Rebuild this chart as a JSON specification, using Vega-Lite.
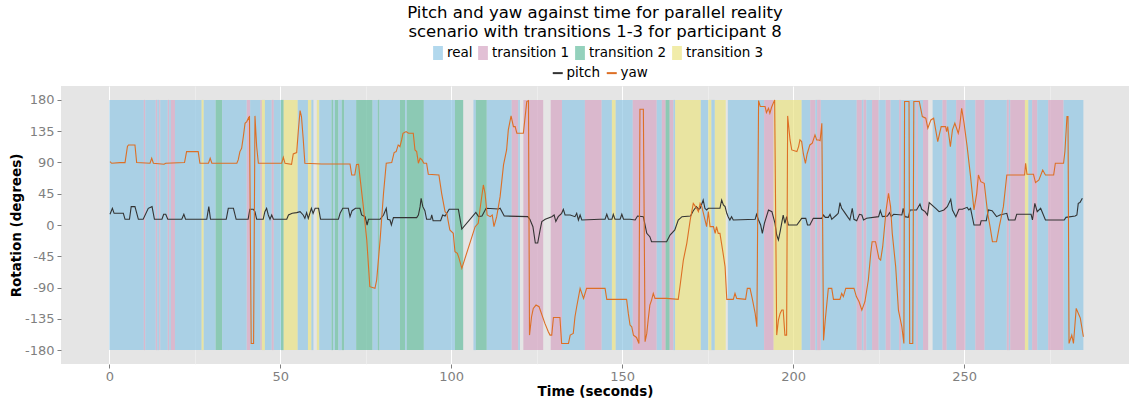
{
"$schema": "https://vega.github.io/schema/vega-lite/v6.json",
"width": 1068, "height": 278,
"autosize": {"type": "none"},
"padding": {"left": 61, "top": 86, "right": 0, "bottom": 36},
"background": "white",
"title": {"text": ["Pitch and yaw against time for parallel reality", "scenario with transitions 1-3 for participant 8"], "fontSize": 16.5, "fontWeight": "normal", "font": "DejaVu Sans", "color": "black", "anchor": "middle", "frame": "group", "lineHeight": 18.5, "offset": 6},
"config": {"view": {"fill": "#e5e5e5", "stroke": null}, "font": "DejaVu Sans",
 "axis": {"labelOverlap": false, "domain": false, "tickColor": "#7f7f7f", "tickSize": 4, "labelColor": "#7f7f7f", "labelFontSize": 13, "labelFont": "DejaVu Sans", "titleFontSize": 13.5, "titleFontWeight": "bold", "titleColor": "black", "titleFont": "DejaVu Sans", "labelFlush": false},
 "axisX": {"labelPadding": 2, "titlePadding": 1},
 "axisY": {"labelPadding": 3, "titlePadding": 1}},
"datasets": {
"bands": [
{"s":0,"e":10.1,"state":"real"},{"s":10.1,"e":10.5,"state":"transition 1"},{"s":10.5,"e":13.6,"state":"real"},{"s":13.6,"e":14.0,"state":"transition 1"},{"s":14.0,"e":14.6,"state":"real"},{"s":14.6,"e":14.9,"state":"transition 1"},{"s":14.9,"e":17.1,"state":"real"},{"s":17.1,"e":17.5,"state":"transition 1"},{"s":17.5,"e":18.0,"state":"real"},{"s":18.0,"e":19.2,"state":"transition 1"},{"s":19.2,"e":27.0,"state":"real"},{"s":27.0,"e":27.6,"state":"transition 3"},{"s":27.6,"e":31.1,"state":"real"},{"s":31.1,"e":33.0,"state":"transition 2"},{"s":33.0,"e":40.2,"state":"real"},{"s":40.2,"e":41.2,"state":"transition 1"},{"s":41.2,"e":44.2,"state":"real"},{"s":44.2,"e":44.6,"state":"transition 1"},{"s":44.6,"e":45.5,"state":"transition 3"},{"s":45.5,"e":47.5,"state":"real"},{"s":47.5,"e":48.1,"state":"transition 1"},{"s":48.1,"e":50.2,"state":"real"},{"s":50.2,"e":51.0,"state":"transition 2"},{"s":51.0,"e":55.1,"state":"transition 3"},{"s":55.1,"e":58.1,"state":"real"},{"s":58.1,"e":59.1,"state":"transition 3"},{"s":59.1,"e":59.7,"state":"real"},{"s":60.7,"e":61.4,"state":"transition 3"},{"s":61.4,"e":65.0,"state":"real"},{"s":65.0,"e":65.5,"state":"transition 2"},{"s":65.5,"e":66.0,"state":"real"},{"s":66.0,"e":67.0,"state":"transition 2"},{"s":67.0,"e":68.0,"state":"real"},{"s":68.0,"e":68.7,"state":"transition 2"},{"s":68.7,"e":72.2,"state":"real"},{"s":72.2,"e":77.0,"state":"transition 2"},{"s":77.0,"e":78.5,"state":"real"},{"s":78.5,"e":79.0,"state":"transition 2"},{"s":79.0,"e":85.0,"state":"real"},{"s":85.0,"e":86.5,"state":"transition 2"},{"s":86.5,"e":87.0,"state":"real"},{"s":87.0,"e":92.0,"state":"transition 2"},{"s":92.0,"e":101.1,"state":"real"},{"s":101.1,"e":103.5,"state":"transition 2"},{"s":106.5,"e":107.2,"state":"real"},{"s":107.2,"e":110.4,"state":"transition 2"},{"s":110.4,"e":117.7,"state":"real"},{"s":117.7,"e":119.6,"state":"transition 1"},{"s":119.6,"e":120.1,"state":"real"},{"s":121.1,"e":126.9,"state":"transition 1"},{"s":129.1,"e":132.4,"state":"transition 1"},{"s":132.4,"e":139.1,"state":"real"},{"s":139.1,"e":144.0,"state":"transition 1"},{"s":144.0,"e":147.0,"state":"real"},{"s":147.0,"e":148.1,"state":"transition 3"},{"s":148.1,"e":153.1,"state":"real"},{"s":153.1,"e":160.1,"state":"transition 1"},{"s":160.1,"e":161.6,"state":"real"},{"s":161.6,"e":162.7,"state":"transition 1"},{"s":162.7,"e":163.9,"state":"transition 2"},{"s":163.9,"e":165.0,"state":"transition 1"},{"s":165.0,"e":165.5,"state":"real"},{"s":165.5,"e":173.0,"state":"transition 3"},{"s":173.0,"e":175.2,"state":"real"},{"s":175.2,"e":176.1,"state":"transition 3"},{"s":176.1,"e":177.1,"state":"real"},{"s":177.1,"e":180.3,"state":"transition 3"},{"s":180.9,"e":191.5,"state":"real"},{"s":191.5,"e":194.3,"state":"transition 1"},{"s":194.3,"e":202.5,"state":"transition 3"},{"s":202.5,"e":205.0,"state":"real"},{"s":205.0,"e":206.5,"state":"transition 1"},{"s":206.5,"e":207.0,"state":"real"},{"s":207.0,"e":208.1,"state":"transition 1"},{"s":208.1,"e":218.6,"state":"real"},{"s":218.6,"e":220.1,"state":"transition 1"},{"s":220.1,"e":220.6,"state":"real"},{"s":220.6,"e":221.4,"state":"transition 1"},{"s":221.4,"e":223.1,"state":"real"},{"s":223.1,"e":225.0,"state":"transition 1"},{"s":225.0,"e":227.1,"state":"real"},{"s":227.1,"e":228.5,"state":"transition 1"},{"s":228.5,"e":231.0,"state":"real"},{"s":231.0,"e":231.6,"state":"transition 1"},{"s":231.6,"e":236.0,"state":"real"},{"s":236.0,"e":236.5,"state":"transition 1"},{"s":236.5,"e":238.0,"state":"real"},{"s":238.0,"e":239.5,"state":"transition 1"},{"s":240.8,"e":243.7,"state":"real"},{"s":243.7,"e":244.9,"state":"transition 1"},{"s":244.9,"e":247.7,"state":"real"},{"s":247.7,"e":250.4,"state":"transition 1"},{"s":250.4,"e":253.3,"state":"real"},{"s":253.3,"e":256.0,"state":"transition 1"},{"s":256.0,"e":262.5,"state":"real"},{"s":262.5,"e":263.1,"state":"transition 1"},{"s":263.1,"e":263.5,"state":"real"},{"s":263.5,"e":267.8,"state":"transition 1"},{"s":267.8,"e":268.8,"state":"transition 3"},{"s":268.8,"e":269.9,"state":"real"},{"s":269.9,"e":271.4,"state":"transition 1"},{"s":271.4,"e":274.6,"state":"real"},{"s":274.6,"e":279.1,"state":"transition 1"},{"s":279.1,"e":284.9,"state":"real"}
],
"lines": [
{"t":0.2,"v":15.4,"series":"pitch"},{"t":0.9,"v":24,"series":"pitch"},{"t":1.4,"v":16.8,"series":"pitch"},{"t":4.1,"v":16.8,"series":"pitch"},{"t":4.6,"v":8.2,"series":"pitch"},{"t":5.9,"v":8.2,"series":"pitch"},{"t":6.4,"v":26.4,"series":"pitch"},{"t":7.5,"v":26.4,"series":"pitch"},{"t":8.5,"v":8.2,"series":"pitch"},{"t":9.9,"v":8.2,"series":"pitch"},{"t":11.4,"v":24,"series":"pitch"},{"t":12.5,"v":26.4,"series":"pitch"},{"t":13.2,"v":8.2,"series":"pitch"},{"t":15.4,"v":8.2,"series":"pitch"},{"t":15.9,"v":15.4,"series":"pitch"},{"t":16.5,"v":15.4,"series":"pitch"},{"t":17.1,"v":8.2,"series":"pitch"},{"t":21.2,"v":8.2,"series":"pitch"},{"t":21.8,"v":15.4,"series":"pitch"},{"t":22.3,"v":8.2,"series":"pitch"},{"t":28.5,"v":8.2,"series":"pitch"},{"t":29.1,"v":26.4,"series":"pitch"},{"t":29.6,"v":8.2,"series":"pitch"},{"t":34.2,"v":8.2,"series":"pitch"},{"t":34.8,"v":24,"series":"pitch"},{"t":36.3,"v":24,"series":"pitch"},{"t":37.1,"v":8.2,"series":"pitch"},{"t":40.6,"v":8.2,"series":"pitch"},{"t":41.1,"v":22.6,"series":"pitch"},{"t":42.1,"v":22.6,"series":"pitch"},{"t":42.6,"v":19.2,"series":"pitch"},{"t":43.1,"v":8.2,"series":"pitch"},{"t":45.0,"v":8.2,"series":"pitch"},{"t":45.5,"v":19.2,"series":"pitch"},{"t":46.0,"v":24,"series":"pitch"},{"t":46.5,"v":14.4,"series":"pitch"},{"t":47.0,"v":8.2,"series":"pitch"},{"t":47.5,"v":14.4,"series":"pitch"},{"t":48.0,"v":8.2,"series":"pitch"},{"t":51.9,"v":8.2,"series":"pitch"},{"t":52.4,"v":14.4,"series":"pitch"},{"t":53.5,"v":16.8,"series":"pitch"},{"t":54.8,"v":17.8,"series":"pitch"},{"t":55.8,"v":19.2,"series":"pitch"},{"t":56.7,"v":14.4,"series":"pitch"},{"t":57.2,"v":9.6,"series":"pitch"},{"t":57.7,"v":17.8,"series":"pitch"},{"t":58.2,"v":9.6,"series":"pitch"},{"t":59.1,"v":24,"series":"pitch"},{"t":59.6,"v":16.8,"series":"pitch"},{"t":60.2,"v":24,"series":"pitch"},{"t":61.2,"v":24,"series":"pitch"},{"t":61.8,"v":8.2,"series":"pitch"},{"t":67.0,"v":8.2,"series":"pitch"},{"t":67.5,"v":16.8,"series":"pitch"},{"t":68.3,"v":24,"series":"pitch"},{"t":69.9,"v":24,"series":"pitch"},{"t":70.4,"v":12,"series":"pitch"},{"t":71.0,"v":20.6,"series":"pitch"},{"t":72.0,"v":24,"series":"pitch"},{"t":73.3,"v":24,"series":"pitch"},{"t":73.8,"v":14.4,"series":"pitch"},{"t":74.8,"v":12,"series":"pitch"},{"t":75.4,"v":0,"series":"pitch"},{"t":75.8,"v":8.2,"series":"pitch"},{"t":79.2,"v":8.2,"series":"pitch"},{"t":80.2,"v":14.4,"series":"pitch"},{"t":81.0,"v":24,"series":"pitch"},{"t":81.4,"v":8.2,"series":"pitch"},{"t":82.1,"v":7.2,"series":"pitch"},{"t":82.5,"v":0,"series":"pitch"},{"t":83.1,"v":10.6,"series":"pitch"},{"t":89.9,"v":10.6,"series":"pitch"},{"t":90.4,"v":14.4,"series":"pitch"},{"t":90.9,"v":26.4,"series":"pitch"},{"t":91.2,"v":38.4,"series":"pitch"},{"t":91.7,"v":26.4,"series":"pitch"},{"t":92.3,"v":20.6,"series":"pitch"},{"t":92.8,"v":8.2,"series":"pitch"},{"t":94.0,"v":8.2,"series":"pitch"},{"t":94.3,"v":14.4,"series":"pitch"},{"t":94.7,"v":6.2,"series":"pitch"},{"t":96.9,"v":6.2,"series":"pitch"},{"t":97.5,"v":14.4,"series":"pitch"},{"t":98.2,"v":13,"series":"pitch"},{"t":98.7,"v":16.8,"series":"pitch"},{"t":99.4,"v":22.6,"series":"pitch"},{"t":102.1,"v":22.6,"series":"pitch"},{"t":103.1,"v":-5.8,"series":"pitch"},{"t":107.2,"v":18,"series":"pitch"},{"t":108.0,"v":12,"series":"pitch"},{"t":109.0,"v":13,"series":"pitch"},{"t":110.2,"v":24,"series":"pitch"},{"t":113.8,"v":23,"series":"pitch"},{"t":114.3,"v":24,"series":"pitch"},{"t":115.5,"v":13,"series":"pitch"},{"t":122.4,"v":12,"series":"pitch"},{"t":123.0,"v":8.2,"series":"pitch"},{"t":123.9,"v":-2.4,"series":"pitch"},{"t":124.6,"v":-26,"series":"pitch"},{"t":125.3,"v":-26,"series":"pitch"},{"t":126.0,"v":-7,"series":"pitch"},{"t":126.5,"v":5,"series":"pitch"},{"t":127.5,"v":8.2,"series":"pitch"},{"t":129.4,"v":12,"series":"pitch"},{"t":130.1,"v":14.4,"series":"pitch"},{"t":130.6,"v":5,"series":"pitch"},{"t":131.3,"v":12,"series":"pitch"},{"t":132.3,"v":16.8,"series":"pitch"},{"t":132.8,"v":22.6,"series":"pitch"},{"t":133.3,"v":14.4,"series":"pitch"},{"t":134.8,"v":14.4,"series":"pitch"},{"t":136.2,"v":12,"series":"pitch"},{"t":136.7,"v":16.8,"series":"pitch"},{"t":137.2,"v":7.2,"series":"pitch"},{"t":137.7,"v":14.4,"series":"pitch"},{"t":138.2,"v":7.2,"series":"pitch"},{"t":143.5,"v":8.2,"series":"pitch"},{"t":145.0,"v":8.2,"series":"pitch"},{"t":145.5,"v":15.4,"series":"pitch"},{"t":146.0,"v":8.2,"series":"pitch"},{"t":147.0,"v":8.2,"series":"pitch"},{"t":147.4,"v":15.4,"series":"pitch"},{"t":147.9,"v":8.2,"series":"pitch"},{"t":149.4,"v":8.2,"series":"pitch"},{"t":149.9,"v":15.4,"series":"pitch"},{"t":150.4,"v":8.2,"series":"pitch"},{"t":152.3,"v":8.2,"series":"pitch"},{"t":153.8,"v":7.2,"series":"pitch"},{"t":154.5,"v":13,"series":"pitch"},{"t":156.2,"v":12,"series":"pitch"},{"t":157.2,"v":-12,"series":"pitch"},{"t":158.1,"v":-16.8,"series":"pitch"},{"t":158.6,"v":-24,"series":"pitch"},{"t":163.0,"v":-24,"series":"pitch"},{"t":164.0,"v":-14.4,"series":"pitch"},{"t":165.4,"v":-7.2,"series":"pitch"},{"t":166.4,"v":7.2,"series":"pitch"},{"t":167.5,"v":12,"series":"pitch"},{"t":170.0,"v":13,"series":"pitch"},{"t":170.8,"v":20.6,"series":"pitch"},{"t":171.7,"v":26.4,"series":"pitch"},{"t":172.4,"v":22.6,"series":"pitch"},{"t":172.8,"v":24,"series":"pitch"},{"t":173.7,"v":36,"series":"pitch"},{"t":174.2,"v":24,"series":"pitch"},{"t":174.7,"v":21.6,"series":"pitch"},{"t":175.2,"v":24,"series":"pitch"},{"t":178.6,"v":24,"series":"pitch"},{"t":179.1,"v":36,"series":"pitch"},{"t":179.6,"v":28.8,"series":"pitch"},{"t":180.1,"v":26.4,"series":"pitch"},{"t":180.6,"v":16.8,"series":"pitch"},{"t":181.0,"v":12,"series":"pitch"},{"t":181.5,"v":7.2,"series":"pitch"},{"t":182.0,"v":12,"series":"pitch"},{"t":182.5,"v":7.2,"series":"pitch"},{"t":188.9,"v":8.2,"series":"pitch"},{"t":189.3,"v":15.4,"series":"pitch"},{"t":189.8,"v":8.2,"series":"pitch"},{"t":190.5,"v":0,"series":"pitch"},{"t":191.0,"v":-12,"series":"pitch"},{"t":191.6,"v":2.4,"series":"pitch"},{"t":192.2,"v":12,"series":"pitch"},{"t":192.8,"v":21.6,"series":"pitch"},{"t":193.8,"v":19.2,"series":"pitch"},{"t":194.7,"v":2.4,"series":"pitch"},{"t":195.2,"v":-14.4,"series":"pitch"},{"t":195.7,"v":-21.6,"series":"pitch"},{"t":196.2,"v":-9.6,"series":"pitch"},{"t":197.1,"v":14.4,"series":"pitch"},{"t":197.6,"v":2.4,"series":"pitch"},{"t":198.1,"v":12,"series":"pitch"},{"t":198.6,"v":0,"series":"pitch"},{"t":201.1,"v":0,"series":"pitch"},{"t":202.5,"v":9.6,"series":"pitch"},{"t":203.7,"v":9.6,"series":"pitch"},{"t":204.2,"v":0,"series":"pitch"},{"t":204.9,"v":0,"series":"pitch"},{"t":205.9,"v":9.6,"series":"pitch"},{"t":208.4,"v":9.6,"series":"pitch"},{"t":208.9,"v":14.4,"series":"pitch"},{"t":209.4,"v":11,"series":"pitch"},{"t":210.3,"v":11,"series":"pitch"},{"t":210.8,"v":15.4,"series":"pitch"},{"t":211.3,"v":8.2,"series":"pitch"},{"t":212.7,"v":14.4,"series":"pitch"},{"t":213.2,"v":16.8,"series":"pitch"},{"t":213.7,"v":32.2,"series":"pitch"},{"t":214.2,"v":24,"series":"pitch"},{"t":214.9,"v":19.2,"series":"pitch"},{"t":215.9,"v":12,"series":"pitch"},{"t":216.6,"v":7.2,"series":"pitch"},{"t":217.3,"v":24,"series":"pitch"},{"t":217.8,"v":8.2,"series":"pitch"},{"t":218.6,"v":6.2,"series":"pitch"},{"t":219.4,"v":15.4,"series":"pitch"},{"t":220.1,"v":14.4,"series":"pitch"},{"t":220.6,"v":7.2,"series":"pitch"},{"t":221.5,"v":9.6,"series":"pitch"},{"t":225.0,"v":12,"series":"pitch"},{"t":225.5,"v":20.6,"series":"pitch"},{"t":226.1,"v":12,"series":"pitch"},{"t":227.6,"v":13,"series":"pitch"},{"t":228.2,"v":17.8,"series":"pitch"},{"t":228.7,"v":12,"series":"pitch"},{"t":229.4,"v":15.4,"series":"pitch"},{"t":231.8,"v":14.4,"series":"pitch"},{"t":232.2,"v":24,"series":"pitch"},{"t":232.7,"v":12,"series":"pitch"},{"t":233.7,"v":11,"series":"pitch"},{"t":234.2,"v":21.6,"series":"pitch"},{"t":236.1,"v":21.6,"series":"pitch"},{"t":237.1,"v":30.2,"series":"pitch"},{"t":237.6,"v":22.6,"series":"pitch"},{"t":238.6,"v":19.2,"series":"pitch"},{"t":239.3,"v":14.4,"series":"pitch"},{"t":239.8,"v":32.2,"series":"pitch"},{"t":241.7,"v":24,"series":"pitch"},{"t":242.7,"v":19.2,"series":"pitch"},{"t":244.1,"v":21.6,"series":"pitch"},{"t":245.1,"v":26.4,"series":"pitch"},{"t":246.1,"v":37,"series":"pitch"},{"t":246.6,"v":21.6,"series":"pitch"},{"t":247.6,"v":12,"series":"pitch"},{"t":248.5,"v":22.6,"series":"pitch"},{"t":249.5,"v":22.6,"series":"pitch"},{"t":250.9,"v":25.4,"series":"pitch"},{"t":251.4,"v":21.6,"series":"pitch"},{"t":251.9,"v":24,"series":"pitch"},{"t":252.9,"v":0,"series":"pitch"},{"t":254.7,"v":0,"series":"pitch"},{"t":255.0,"v":6.2,"series":"pitch"},{"t":256.5,"v":6.2,"series":"pitch"},{"t":257.1,"v":21.6,"series":"pitch"},{"t":258.2,"v":20.6,"series":"pitch"},{"t":259.5,"v":12,"series":"pitch"},{"t":260.5,"v":14.4,"series":"pitch"},{"t":262.5,"v":16.8,"series":"pitch"},{"t":263.0,"v":7.2,"series":"pitch"},{"t":264.9,"v":7.2,"series":"pitch"},{"t":265.4,"v":15.4,"series":"pitch"},{"t":269.6,"v":15.4,"series":"pitch"},{"t":270.0,"v":7.2,"series":"pitch"},{"t":270.7,"v":31.2,"series":"pitch"},{"t":271.4,"v":19.2,"series":"pitch"},{"t":272.4,"v":24,"series":"pitch"},{"t":273.8,"v":7.2,"series":"pitch"},{"t":279.3,"v":7.2,"series":"pitch"},{"t":279.8,"v":11,"series":"pitch"},{"t":282.5,"v":13,"series":"pitch"},{"t":283.0,"v":14.4,"series":"pitch"},{"t":283.4,"v":31.2,"series":"pitch"},{"t":283.9,"v":32.2,"series":"pitch"},{"t":284.6,"v":38.4,"series":"pitch"},
{"t":0.2,"v":91.2,"series":"yaw"},{"t":0.7,"v":88.8,"series":"yaw"},{"t":3.1,"v":89.8,"series":"yaw"},{"t":4.6,"v":89.8,"series":"yaw"},{"t":5.3,"v":113,"series":"yaw"},{"t":5.6,"v":115.2,"series":"yaw"},{"t":7.5,"v":115.2,"series":"yaw"},{"t":8.0,"v":89.8,"series":"yaw"},{"t":11.9,"v":88.8,"series":"yaw"},{"t":12.4,"v":96,"series":"yaw"},{"t":12.9,"v":88.8,"series":"yaw"},{"t":16.0,"v":87.4,"series":"yaw"},{"t":16.5,"v":88.8,"series":"yaw"},{"t":22.0,"v":89.8,"series":"yaw"},{"t":22.6,"v":105.6,"series":"yaw"},{"t":26.0,"v":105.6,"series":"yaw"},{"t":26.5,"v":88.8,"series":"yaw"},{"t":29.0,"v":88.8,"series":"yaw"},{"t":29.5,"v":96,"series":"yaw"},{"t":30.0,"v":88.8,"series":"yaw"},{"t":37.3,"v":88.8,"series":"yaw"},{"t":37.7,"v":93.6,"series":"yaw"},{"t":38.2,"v":105.6,"series":"yaw"},{"t":38.7,"v":110.4,"series":"yaw"},{"t":39.2,"v":127.2,"series":"yaw"},{"t":39.7,"v":146.4,"series":"yaw"},{"t":40.2,"v":148.8,"series":"yaw"},{"t":40.7,"v":154,"series":"yaw"},{"t":40.9,"v":151,"series":"yaw"},{"t":41.0,"v":157,"series":"yaw"},{"t":41.5,"v":-170.4,"series":"yaw"},{"t":42.2,"v":-170.4,"series":"yaw"},{"t":42.6,"v":157,"series":"yaw"},{"t":43.1,"v":112.8,"series":"yaw"},{"t":43.6,"v":88.8,"series":"yaw"},{"t":50.4,"v":88.8,"series":"yaw"},{"t":50.9,"v":97.4,"series":"yaw"},{"t":51.4,"v":88.8,"series":"yaw"},{"t":53.3,"v":87.4,"series":"yaw"},{"t":53.8,"v":102.2,"series":"yaw"},{"t":54.8,"v":104.2,"series":"yaw"},{"t":55.3,"v":136.8,"series":"yaw"},{"t":55.8,"v":164.6,"series":"yaw"},{"t":56.2,"v":156,"series":"yaw"},{"t":56.7,"v":124.8,"series":"yaw"},{"t":57.2,"v":88.8,"series":"yaw"},{"t":62.1,"v":87.8,"series":"yaw"},{"t":70.4,"v":87.8,"series":"yaw"},{"t":70.9,"v":72,"series":"yaw"},{"t":71.8,"v":72,"series":"yaw"},{"t":72.3,"v":87,"series":"yaw"},{"t":72.9,"v":87.4,"series":"yaw"},{"t":73.3,"v":69.6,"series":"yaw"},{"t":74.3,"v":26.4,"series":"yaw"},{"t":75.3,"v":-21.6,"series":"yaw"},{"t":76.2,"v":-88.8,"series":"yaw"},{"t":77.7,"v":-91.2,"series":"yaw"},{"t":78.2,"v":-79.2,"series":"yaw"},{"t":79.2,"v":-21.6,"series":"yaw"},{"t":80.2,"v":45.6,"series":"yaw"},{"t":81.0,"v":88.8,"series":"yaw"},{"t":82.6,"v":89.8,"series":"yaw"},{"t":83.3,"v":104.2,"series":"yaw"},{"t":83.9,"v":105.6,"series":"yaw"},{"t":84.5,"v":115.2,"series":"yaw"},{"t":85.0,"v":112.8,"series":"yaw"},{"t":85.5,"v":122.4,"series":"yaw"},{"t":85.9,"v":132,"series":"yaw"},{"t":86.8,"v":134.4,"series":"yaw"},{"t":87.5,"v":132,"series":"yaw"},{"t":88.9,"v":132,"series":"yaw"},{"t":89.4,"v":108,"series":"yaw"},{"t":89.9,"v":105.6,"series":"yaw"},{"t":90.4,"v":88.8,"series":"yaw"},{"t":90.9,"v":96,"series":"yaw"},{"t":91.4,"v":94,"series":"yaw"},{"t":92.0,"v":88.8,"series":"yaw"},{"t":92.8,"v":88.8,"series":"yaw"},{"t":93.3,"v":73,"series":"yaw"},{"t":96.4,"v":72,"series":"yaw"},{"t":97.2,"v":45.6,"series":"yaw"},{"t":98.2,"v":19.2,"series":"yaw"},{"t":98.7,"v":16.8,"series":"yaw"},{"t":99.6,"v":-7.2,"series":"yaw"},{"t":100.6,"v":-12,"series":"yaw"},{"t":101.1,"v":-38.4,"series":"yaw"},{"t":101.8,"v":-40.8,"series":"yaw"},{"t":102.3,"v":-48,"series":"yaw"},{"t":103.1,"v":-62.4,"series":"yaw"},{"t":107.0,"v":-2.4,"series":"yaw"},{"t":107.9,"v":2.4,"series":"yaw"},{"t":108.4,"v":22,"series":"yaw"},{"t":109.4,"v":57.6,"series":"yaw"},{"t":109.9,"v":45.6,"series":"yaw"},{"t":110.5,"v":14.4,"series":"yaw"},{"t":111.4,"v":12,"series":"yaw"},{"t":112.0,"v":14.4,"series":"yaw"},{"t":112.5,"v":-2.4,"series":"yaw"},{"t":113.3,"v":12,"series":"yaw"},{"t":114.3,"v":40.8,"series":"yaw"},{"t":115.3,"v":86.4,"series":"yaw"},{"t":116.2,"v":108,"series":"yaw"},{"t":116.7,"v":136.8,"series":"yaw"},{"t":117.5,"v":157,"series":"yaw"},{"t":118.2,"v":141.6,"series":"yaw"},{"t":118.7,"v":141.6,"series":"yaw"},{"t":119.2,"v":132,"series":"yaw"},{"t":121.1,"v":132,"series":"yaw"},{"t":122.1,"v":177.6,"series":"yaw"},{"t":122.6,"v":179,"series":"yaw"},{"t":122.9,"v":-158.4,"series":"yaw"},{"t":123.5,"v":-132,"series":"yaw"},{"t":124.0,"v":-120,"series":"yaw"},{"t":124.8,"v":-115.2,"series":"yaw"},{"t":125.7,"v":-117.6,"series":"yaw"},{"t":127.4,"v":-141.6,"series":"yaw"},{"t":128.4,"v":-153.6,"series":"yaw"},{"t":128.9,"v":-158.4,"series":"yaw"},{"t":129.4,"v":-158.4,"series":"yaw"},{"t":129.9,"v":-133,"series":"yaw"},{"t":131.8,"v":-133,"series":"yaw"},{"t":132.3,"v":-170.4,"series":"yaw"},{"t":134.3,"v":-170.4,"series":"yaw"},{"t":134.8,"v":-158.4,"series":"yaw"},{"t":135.7,"v":-156,"series":"yaw"},{"t":136.2,"v":-132,"series":"yaw"},{"t":136.7,"v":-117.6,"series":"yaw"},{"t":137.7,"v":-91.2,"series":"yaw"},{"t":138.7,"v":-105.6,"series":"yaw"},{"t":139.6,"v":-91.2,"series":"yaw"},{"t":145.0,"v":-91.2,"series":"yaw"},{"t":145.5,"v":-107,"series":"yaw"},{"t":151.3,"v":-107,"series":"yaw"},{"t":151.8,"v":-127.2,"series":"yaw"},{"t":152.3,"v":-144,"series":"yaw"},{"t":152.8,"v":-146.4,"series":"yaw"},{"t":153.3,"v":-158.4,"series":"yaw"},{"t":154.2,"v":-161.8,"series":"yaw"},{"t":154.9,"v":-170.4,"series":"yaw"},{"t":155.2,"v":166.6,"series":"yaw"},{"t":156.2,"v":166.6,"series":"yaw"},{"t":156.7,"v":-168,"series":"yaw"},{"t":157.2,"v":-156,"series":"yaw"},{"t":157.6,"v":-136.8,"series":"yaw"},{"t":158.1,"v":-115.2,"series":"yaw"},{"t":158.6,"v":-108,"series":"yaw"},{"t":159.1,"v":-98.4,"series":"yaw"},{"t":159.6,"v":-105.6,"series":"yaw"},{"t":163.0,"v":-105.6,"series":"yaw"},{"t":166.4,"v":-107,"series":"yaw"},{"t":166.9,"v":-88.8,"series":"yaw"},{"t":167.9,"v":-50.4,"series":"yaw"},{"t":168.9,"v":-26.4,"series":"yaw"},{"t":169.9,"v":7.2,"series":"yaw"},{"t":170.8,"v":31.2,"series":"yaw"},{"t":171.8,"v":24,"series":"yaw"},{"t":172.3,"v":19.2,"series":"yaw"},{"t":172.8,"v":31.2,"series":"yaw"},{"t":173.3,"v":26.4,"series":"yaw"},{"t":174.7,"v":-2.4,"series":"yaw"},{"t":175.2,"v":19.2,"series":"yaw"},{"t":175.7,"v":-2.4,"series":"yaw"},{"t":176.7,"v":-2.4,"series":"yaw"},{"t":177.2,"v":-12,"series":"yaw"},{"t":177.6,"v":-2.4,"series":"yaw"},{"t":178.1,"v":-12,"series":"yaw"},{"t":178.6,"v":-12,"series":"yaw"},{"t":179.5,"v":-40,"series":"yaw"},{"t":180.1,"v":-60,"series":"yaw"},{"t":180.6,"v":-107,"series":"yaw"},{"t":182.5,"v":-107,"series":"yaw"},{"t":183.0,"v":-98.4,"series":"yaw"},{"t":183.5,"v":-105.6,"series":"yaw"},{"t":186.1,"v":-107,"series":"yaw"},{"t":186.6,"v":-91.2,"series":"yaw"},{"t":187.4,"v":-91.2,"series":"yaw"},{"t":188.1,"v":-107,"series":"yaw"},{"t":188.9,"v":-127.2,"series":"yaw"},{"t":189.4,"v":-146.4,"series":"yaw"},{"t":189.9,"v":179,"series":"yaw"},{"t":190.4,"v":170.4,"series":"yaw"},{"t":191.8,"v":170.4,"series":"yaw"},{"t":192.2,"v":161.8,"series":"yaw"},{"t":192.8,"v":168,"series":"yaw"},{"t":193.2,"v":160.8,"series":"yaw"},{"t":193.7,"v":169.4,"series":"yaw"},{"t":194.6,"v":180,"series":"yaw"},{"t":195.2,"v":-158.4,"series":"yaw"},{"t":195.7,"v":-136.8,"series":"yaw"},{"t":196.2,"v":-127.2,"series":"yaw"},{"t":196.7,"v":-122.4,"series":"yaw"},{"t":197.1,"v":-122.4,"series":"yaw"},{"t":197.6,"v":-158.4,"series":"yaw"},{"t":198.1,"v":-158.4,"series":"yaw"},{"t":198.4,"v":157,"series":"yaw"},{"t":199.1,"v":122.4,"series":"yaw"},{"t":199.6,"v":108,"series":"yaw"},{"t":201.1,"v":105.6,"series":"yaw"},{"t":201.6,"v":112.8,"series":"yaw"},{"t":202.0,"v":122.4,"series":"yaw"},{"t":202.5,"v":120,"series":"yaw"},{"t":203.0,"v":102.2,"series":"yaw"},{"t":203.6,"v":88.8,"series":"yaw"},{"t":204.1,"v":102.2,"series":"yaw"},{"t":204.9,"v":115.2,"series":"yaw"},{"t":205.6,"v":117.6,"series":"yaw"},{"t":206.4,"v":129.6,"series":"yaw"},{"t":206.9,"v":122.4,"series":"yaw"},{"t":207.5,"v":122.4,"series":"yaw"},{"t":207.9,"v":121.4,"series":"yaw"},{"t":208.4,"v":146.4,"series":"yaw"},{"t":208.9,"v":-166,"series":"yaw"},{"t":209.4,"v":-136.8,"series":"yaw"},{"t":210.3,"v":-91.2,"series":"yaw"},{"t":211.3,"v":-91.2,"series":"yaw"},{"t":211.8,"v":-107,"series":"yaw"},{"t":213.7,"v":-107,"series":"yaw"},{"t":214.2,"v":-98.4,"series":"yaw"},{"t":214.7,"v":-103,"series":"yaw"},{"t":215.4,"v":-91.2,"series":"yaw"},{"t":217.8,"v":-91.2,"series":"yaw"},{"t":218.5,"v":-103,"series":"yaw"},{"t":219.3,"v":-110.4,"series":"yaw"},{"t":220.1,"v":-122.4,"series":"yaw"},{"t":221.0,"v":-110.4,"series":"yaw"},{"t":222.0,"v":-79.2,"series":"yaw"},{"t":222.7,"v":-40.8,"series":"yaw"},{"t":223.1,"v":-24,"series":"yaw"},{"t":224.1,"v":-24,"series":"yaw"},{"t":225.1,"v":-48,"series":"yaw"},{"t":225.6,"v":-50.4,"series":"yaw"},{"t":226.2,"v":-31.2,"series":"yaw"},{"t":227.2,"v":21.6,"series":"yaw"},{"t":227.9,"v":45.6,"series":"yaw"},{"t":228.5,"v":26.4,"series":"yaw"},{"t":229.0,"v":-12,"series":"yaw"},{"t":230.0,"v":-60,"series":"yaw"},{"t":230.8,"v":-122.4,"series":"yaw"},{"t":231.8,"v":-146.4,"series":"yaw"},{"t":232.4,"v":-170.4,"series":"yaw"},{"t":232.6,"v":177.6,"series":"yaw"},{"t":233.9,"v":177.6,"series":"yaw"},{"t":234.1,"v":-170.4,"series":"yaw"},{"t":235.0,"v":-170.4,"series":"yaw"},{"t":235.3,"v":177.6,"series":"yaw"},{"t":236.9,"v":177.6,"series":"yaw"},{"t":237.8,"v":156,"series":"yaw"},{"t":238.8,"v":153.6,"series":"yaw"},{"t":239.4,"v":139.2,"series":"yaw"},{"t":240.3,"v":151.2,"series":"yaw"},{"t":241.1,"v":153.6,"series":"yaw"},{"t":242.3,"v":120,"series":"yaw"},{"t":243.3,"v":141.6,"series":"yaw"},{"t":244.6,"v":141.6,"series":"yaw"},{"t":244.9,"v":134.4,"series":"yaw"},{"t":245.2,"v":141.6,"series":"yaw"},{"t":246.0,"v":112.8,"series":"yaw"},{"t":246.6,"v":136.8,"series":"yaw"},{"t":247.3,"v":146.4,"series":"yaw"},{"t":248.3,"v":132,"series":"yaw"},{"t":248.7,"v":141,"series":"yaw"},{"t":249.3,"v":168,"series":"yaw"},{"t":250.0,"v":146.4,"series":"yaw"},{"t":250.9,"v":112.8,"series":"yaw"},{"t":251.9,"v":69.6,"series":"yaw"},{"t":252.9,"v":21.6,"series":"yaw"},{"t":253.7,"v":45.6,"series":"yaw"},{"t":254.2,"v":72,"series":"yaw"},{"t":254.9,"v":62.4,"series":"yaw"},{"t":255.9,"v":60,"series":"yaw"},{"t":256.9,"v":16.8,"series":"yaw"},{"t":257.6,"v":-2.4,"series":"yaw"},{"t":258.3,"v":-24,"series":"yaw"},{"t":259.5,"v":-24,"series":"yaw"},{"t":260.3,"v":-2.4,"series":"yaw"},{"t":261.5,"v":26.4,"series":"yaw"},{"t":262.5,"v":72,"series":"yaw"},{"t":267.7,"v":72,"series":"yaw"},{"t":268.0,"v":88.8,"series":"yaw"},{"t":268.4,"v":73,"series":"yaw"},{"t":270.3,"v":73,"series":"yaw"},{"t":270.9,"v":61,"series":"yaw"},{"t":271.9,"v":64.8,"series":"yaw"},{"t":273.0,"v":79,"series":"yaw"},{"t":273.8,"v":72,"series":"yaw"},{"t":276.2,"v":72,"series":"yaw"},{"t":276.7,"v":88.8,"series":"yaw"},{"t":279.1,"v":88.8,"series":"yaw"},{"t":279.5,"v":106,"series":"yaw"},{"t":280.1,"v":156,"series":"yaw"},{"t":280.4,"v":156,"series":"yaw"},{"t":280.7,"v":-170.4,"series":"yaw"},{"t":281.5,"v":-158.4,"series":"yaw"},{"t":282.0,"v":-170.4,"series":"yaw"},{"t":282.8,"v":-120,"series":"yaw"},{"t":283.4,"v":-127,"series":"yaw"},{"t":284.0,"v":-134,"series":"yaw"},{"t":284.9,"v":-160.8,"series":"yaw"}
]
},
"layer": [
{
"data": {"name": "bands"},
"mark": {"type": "rect", "opacity": 0.7},
"encoding": {
"x": {"field": "s", "type": "quantitative", "scale": {"domain": [-14.13, 298.24], "nice": false, "zero": false},
 "axis": {"title": "Time (seconds)", "values": [0,25,50,75,100,125,150,175,200,225,250,275], "labelExpr": "datum.value % 50 === 0 ? datum.label : ''",
  "gridColor": {"condition": {"test": "datum.value % 50 === 0", "value": "#ffffff"}, "value": "#f2f2f2"},
  "gridWidth": {"condition": {"test": "datum.value % 50 === 0", "value": 1}, "value": 0.6},
  "tickOpacity": {"condition": {"test": "datum.value % 50 === 0", "value": 1}, "value": 0}}},
"x2": {"field": "e"},
"y": {"datum": -180, "type": "quantitative", "scale": {"domain": [-200, 200], "nice": false, "zero": false},
 "axis": {"title": "Rotation (degrees)", "values": [-180,-157.5,-135,-112.5,-90,-67.5,-45,-22.5,0,22.5,45,67.5,90,112.5,135,157.5,180], "labelExpr": "datum.value % 45 === 0 ? '' + datum.value : ''",
  "gridColor": {"condition": {"test": "datum.value % 45 === 0", "value": "#ffffff"}, "value": "#f2f2f2"},
  "gridWidth": {"condition": {"test": "datum.value % 45 === 0", "value": 1}, "value": 0.6},
  "tickOpacity": {"condition": {"test": "datum.value % 45 === 0", "value": 1}, "value": 0}}},
"y2": {"datum": 180},
"fill": {"field": "state", "type": "nominal",
 "scale": {"domain": ["real", "transition 1", "transition 2", "transition 3"], "range": ["#92c8e6", "#d5a5c3", "#66bd9f", "#ebe485"]},
 "legend": {"title": null, "orient": "none", "legendX": 370, "legendY": -40, "direction": "horizontal", "symbolType": "M-0.7,-1L0.7,-1L0.7,1L-0.7,1Z", "symbolSize": 196, "symbolStrokeWidth": 0, "symbolOpacity": 0.7, "labelFontSize": 13.5, "labelFont": "DejaVu Sans", "labelColor": "black", "labelOffset": 2, "columnPadding": 3, "padding": 0}}
}
},
{
"data": {"name": "lines"},
"mark": {"type": "line", "strokeWidth": 1.1},
"encoding": {
"x": {"field": "t", "type": "quantitative",
 "axis": {"title": "Time (seconds)", "values": [0,25,50,75,100,125,150,175,200,225,250,275], "labelExpr": "datum.value % 50 === 0 ? datum.label : ''",
  "gridColor": {"condition": {"test": "datum.value % 50 === 0", "value": "#ffffff"}, "value": "#f2f2f2"},
  "gridWidth": {"condition": {"test": "datum.value % 50 === 0", "value": 1}, "value": 0.6},
  "tickOpacity": {"condition": {"test": "datum.value % 50 === 0", "value": 1}, "value": 0}}},
"y": {"field": "v", "type": "quantitative",
 "axis": {"title": "Rotation (degrees)", "values": [-180,-157.5,-135,-112.5,-90,-67.5,-45,-22.5,0,22.5,45,67.5,90,112.5,135,157.5,180], "labelExpr": "datum.value % 45 === 0 ? '' + datum.value : ''",
  "gridColor": {"condition": {"test": "datum.value % 45 === 0", "value": "#ffffff"}, "value": "#f2f2f2"},
  "gridWidth": {"condition": {"test": "datum.value % 45 === 0", "value": 1}, "value": 0.6},
  "tickOpacity": {"condition": {"test": "datum.value % 45 === 0", "value": 1}, "value": 0}}},
"stroke": {"field": "series", "type": "nominal",
 "scale": {"domain": ["pitch", "yaw"], "range": ["#333333", "#dd6f25"]},
 "legend": {"title": null, "orient": "none", "legendX": 490, "legendY": -20, "direction": "horizontal", "symbolType": "stroke", "symbolSize": 100, "symbolStrokeWidth": 2, "labelFontSize": 13.5, "labelFont": "DejaVu Sans", "labelColor": "black", "labelOffset": 2, "columnPadding": 1, "padding": 0}}
}
}
]
}
